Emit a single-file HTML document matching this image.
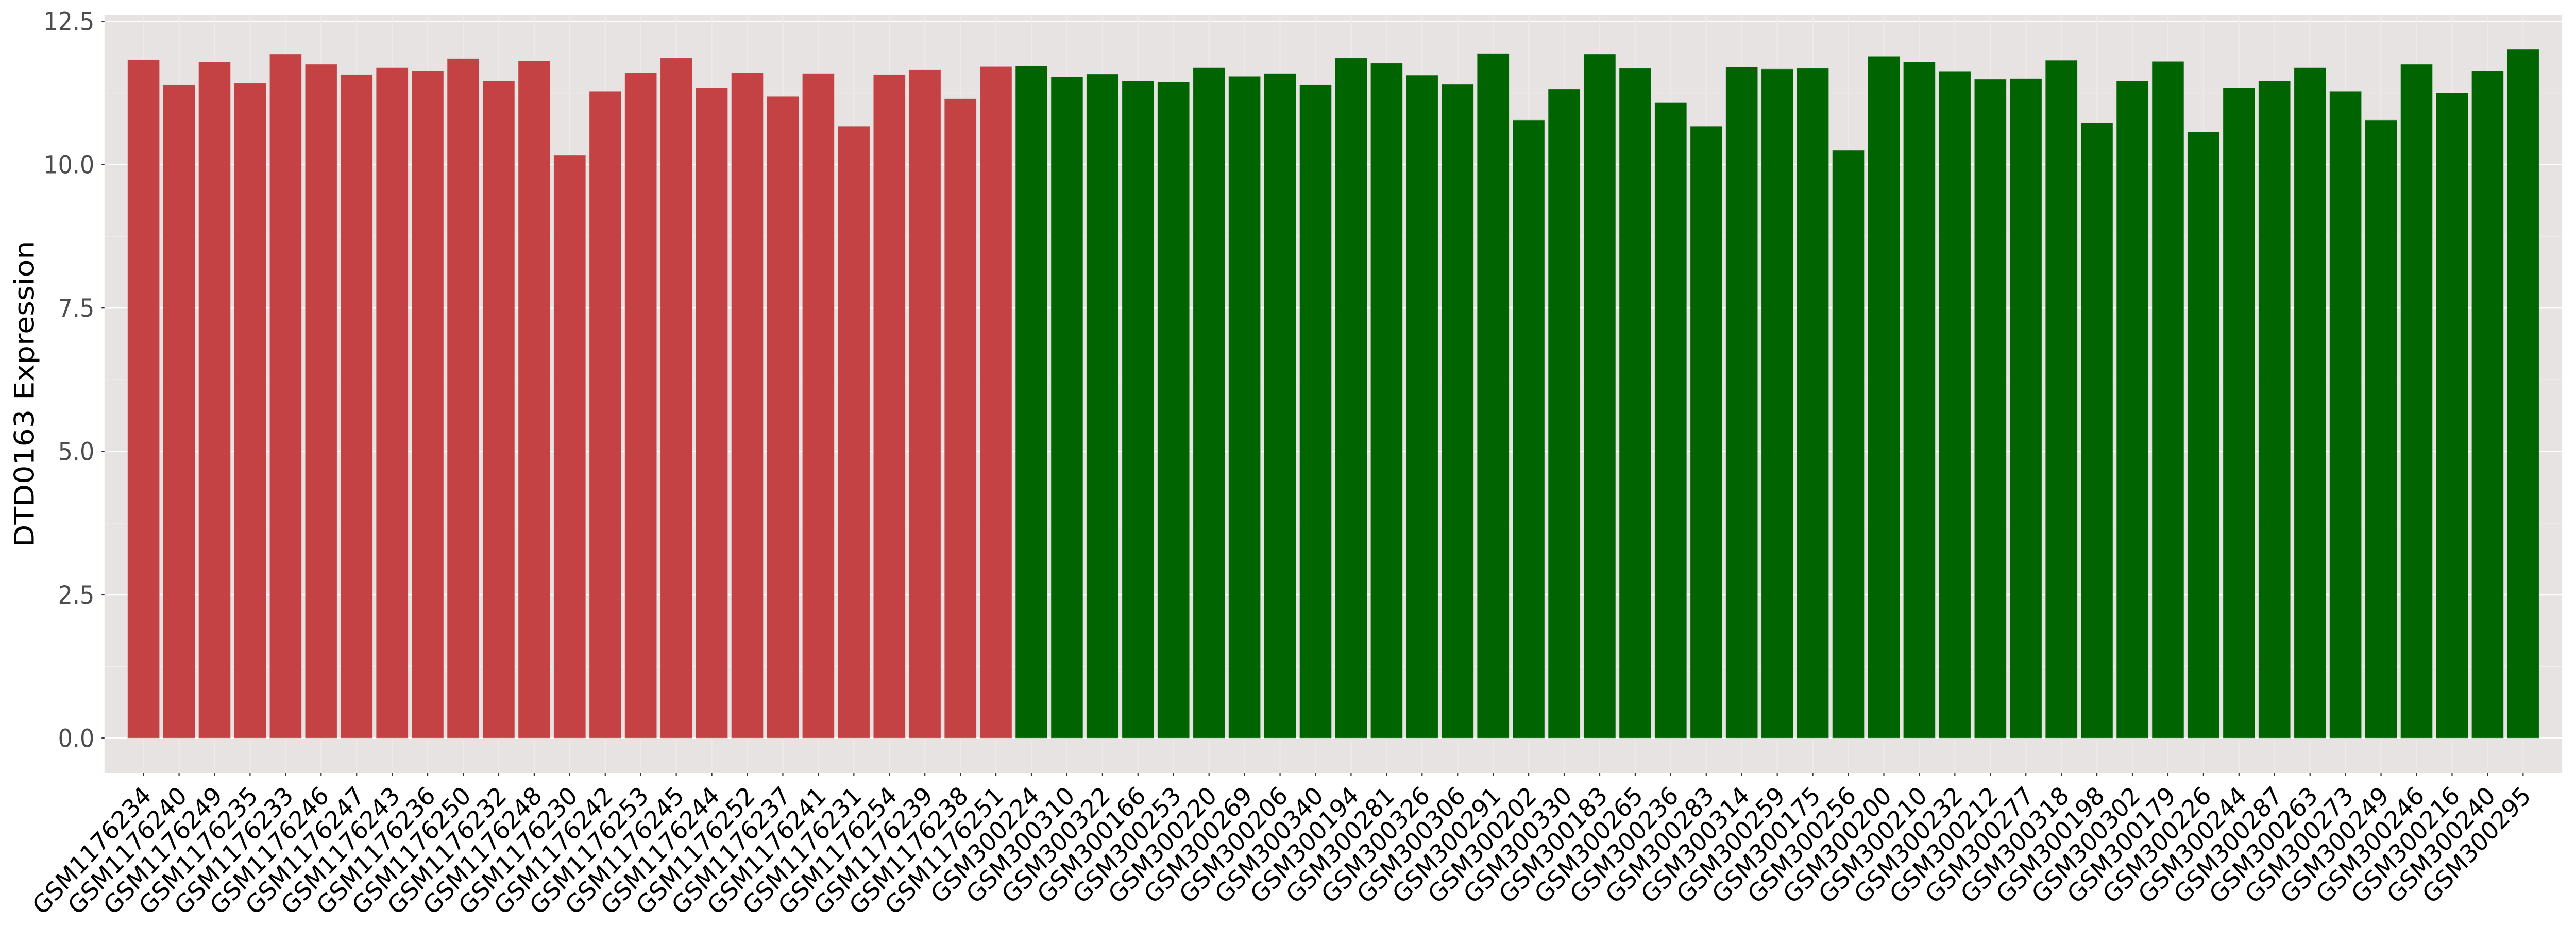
<!DOCTYPE html>
<html><head><meta charset="utf-8"><style>
html,body{margin:0;padding:0;background:#fff;overflow:hidden;width:100%;height:100%;}
svg{display:block;width:100vw;height:100vh;}
text{font-family:"DejaVu Sans","Liberation Sans",sans-serif;}
</style></head><body>
<svg id="chart" viewBox="0 0 5400 1800" preserveAspectRatio="none" xmlns="http://www.w3.org/2000/svg">
<rect x="219" y="29" width="5152" height="1471" fill="#E8E3E3"/>
<g id="grid"></g><g id="bars"></g><g id="yaxis"></g><g id="xaxis"></g>
<text x="71" y="765" font-size="57" fill="#000" text-anchor="middle" transform="rotate(-90 71 765)">DTD0163 Expression</text>
</svg>
<script>
const categories = ["GSM1176234","GSM1176240","GSM1176249","GSM1176235","GSM1176233","GSM1176246","GSM1176247","GSM1176243","GSM1176236","GSM1176250","GSM1176232","GSM1176248","GSM1176230","GSM1176242","GSM1176253","GSM1176245","GSM1176244","GSM1176252","GSM1176237","GSM1176241","GSM1176231","GSM1176254","GSM1176239","GSM1176238","GSM1176251",
"GSM300224","GSM300310","GSM300322","GSM300166","GSM300253","GSM300220","GSM300269","GSM300206","GSM300340","GSM300194","GSM300281","GSM300326","GSM300306","GSM300291","GSM300202","GSM300330","GSM300183","GSM300265","GSM300236","GSM300283","GSM300314","GSM300259","GSM300175","GSM300256","GSM300200","GSM300210","GSM300232","GSM300212","GSM300277","GSM300318","GSM300198","GSM300302","GSM300179","GSM300226","GSM300244","GSM300287","GSM300263","GSM300273","GSM300249","GSM300246","GSM300216","GSM300240","GSM300295"];
const values = [11.83,11.39,11.79,11.42,11.93,11.75,11.57,11.69,11.64,11.85,11.46,11.81,10.17,11.28,11.60,11.86,11.34,11.60,11.19,11.59,10.67,11.57,11.66,11.15,11.71,
11.72,11.53,11.58,11.46,11.44,11.69,11.54,11.59,11.39,11.86,11.77,11.56,11.40,11.94,10.78,11.32,11.93,11.68,11.08,10.67,11.70,11.67,11.68,10.25,11.89,11.79,11.63,11.49,11.50,11.82,10.73,11.46,11.80,10.57,11.34,11.46,11.69,11.28,10.78,11.75,11.25,11.64,12.01];
const groups = ["Case","Case","Case","Case","Case","Case","Case","Case","Case","Case","Case","Case","Case","Case","Case","Case","Case","Case","Case","Case","Case","Case","Case","Case","Case",
"Control","Control","Control","Control","Control","Control","Control","Control","Control","Control","Control","Control","Control","Control","Control","Control","Control","Control","Control","Control","Control","Control","Control","Control","Control","Control","Control","Control","Control","Control","Control","Control","Control","Control","Control","Control","Control","Control","Control","Control","Control","Control","Control"];
const yTicks = [0,2.5,5,7.5,10,12.5];
const yTickLabels = ["0.0","2.5","5.0","7.5","10.0","12.5"];

const NS="http://www.w3.org/2000/svg";
const PL=219, PR=5371, PT=29, PB=1500;
const Y0=1433.3, PXU=111.36;
function yScale(v){return Y0 - v*PXU;}
const step=(PR-PL)/(categories.length+1.2);
function xScale(i){return PL + step*0.6 + step*(i+0.5);}
function mk(tag,attrs,parent){const e=document.createElementNS(NS,tag);for(const k in attrs)e.setAttribute(k,attrs[k]);parent.appendChild(e);return e;}
const grid=document.getElementById('grid'), bars=document.getElementById('bars'), ya=document.getElementById('yaxis'), xa=document.getElementById('xaxis');
for(let i=0;i<yTicks.length-1;i++){
  const y=yScale((yTicks[i]+yTicks[i+1])/2);
  const l=mk('line',{x1:PL,x2:PR,y1:y,y2:y,stroke:'#F4F2F2','stroke-width':1.3},grid);
  
  
}
yTicks.forEach((t,i)=>{
  const y=yScale(t);
  const l=mk('line',{x1:PL,x2:PR,y1:y,y2:y,stroke:'#FFFFFF','stroke-width':2.6},grid);
  
  
  const tk=mk('line',{x1:PL-6,x2:PL,y1:y,y2:y,stroke:'#333','stroke-width':2.4},ya);
  
  
  const tx=mk('text',{x:198,y:y+17,'font-size':48,fill:'#4D4D4D','text-anchor':'end'},ya);
  tx.textContent=yTickLabels[i];
  
  
});
categories.forEach((c,i)=>{
  const x=xScale(i);
  const g=mk('line',{x1:x,x2:x,y1:PT,y2:PB,stroke:'#ECEAEA','stroke-width':2.6},grid);
  
  
  const bw=step*0.9, top=yScale(values[i]);
  const r=mk('rect',{x:x-bw/2,y:top,width:bw,height:Y0-top,fill:groups[i]==='Case'?'#C44244':'#006400',stroke:'#E0E0E0','stroke-width':1,'stroke-opacity':0.6},bars);
  
  
  const tk=mk('line',{x1:x,x2:x,y1:PB,y2:PB+6,stroke:'#333','stroke-width':2.4},xa);
  
  
  const ax=x+19, ay=1548;
  const tx=mk('text',{x:ax,y:ay,'font-size':48.6,fill:'#000','text-anchor':'end',transform:'rotate(-45 '+ax+' '+ay+')'},xa);
  tx.textContent=c;
  
  
});
</script>
</body></html>
